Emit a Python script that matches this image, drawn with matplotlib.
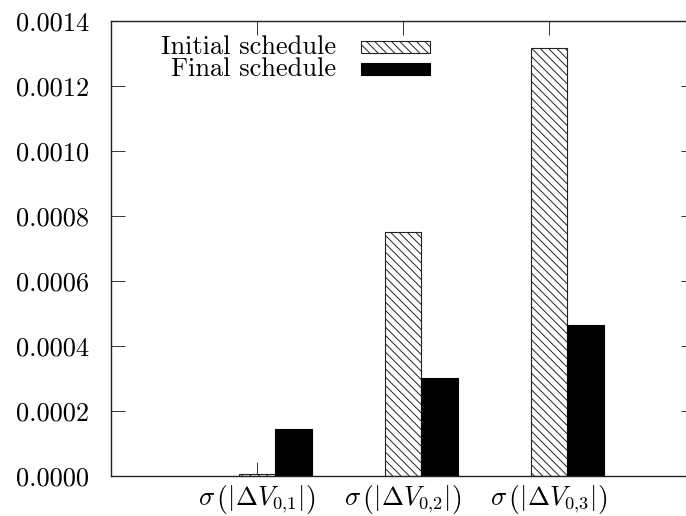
import matplotlib
matplotlib.use("Agg")
import matplotlib.pyplot as plt
from matplotlib.patches import Rectangle
import numpy as np

plt.rcParams['font.family'] = 'serif'
plt.rcParams['font.serif'] = ['cmr10']
plt.rcParams['mathtext.fontset'] = 'cm'
plt.rcParams['axes.unicode_minus'] = False
plt.rcParams['hatch.linewidth'] = 0.7

categories = [r'$\sigma\,\left(|\Delta V_{0{,}1}|\right)$',
              r'$\sigma\,\left(|\Delta V_{0{,}2}|\right)$',
              r'$\sigma\,\left(|\Delta V_{0{,}3}|\right)$']
initial_schedule = [0.000005, 0.00075, 0.001316]
final_schedule = [0.000145, 0.000301, 0.000465]
y_ticks = [0.0, 0.0002, 0.0004, 0.0006, 0.0008, 0.0010, 0.0012, 0.0014]
y_tick_labels = ['0.0000', '0.0002', '0.0004', '0.0006', '0.0008', '0.0010', '0.0012', '0.0014']
series_names = ['Initial schedule', 'Final schedule']

W, H = 686, 516
fig = plt.figure(figsize=(W / 100, H / 100), dpi=100)
ax = fig.add_axes([111 / W, (H - 476) / H, 584 / W, 455 / H])

HATCH = '\\\\\\\\'
x = np.arange(len(categories))
bw = 0.25
ax.bar(x, initial_schedule, width=bw, align='edge', facecolor='white',
       edgecolor='#222222', linewidth=0.8, hatch=HATCH, zorder=2)
ax.bar(x + bw, final_schedule, width=bw, align='edge', facecolor='black',
       edgecolor='black', linewidth=0.8, zorder=2)
# ticks sit at the centre of the first bar in each group
ax.set_xticks(x + bw / 2)
ax.set_xticklabels(categories, fontsize=19)
ax.set_xlim(-1 + bw / 2, 3 + bw / 2)

ax.set_ylim(0, 0.0014)
ax.set_yticks(y_ticks)
ax.set_yticklabels(y_tick_labels, fontsize=19)

ax.set_axisbelow(True)
ax.tick_params(axis='both', direction='in', length=10, width=0.7,
               color='#333333', top=True, right=True)
ax.tick_params(axis='y', pad=16)
ax.tick_params(axis='x', pad=5)
for s in ax.spines.values():
    s.set_linewidth(1.0)
    s.set_color('#222222')

# key in the upper left, text to the left of each swatch
styles = [dict(facecolor='white', edgecolor='#222222', hatch=HATCH),
          dict(facecolor='black', edgecolor='black')]
for name, yc, st in zip(series_names, [47, 69.5], styles):
    ya = (476 - yc) / 455
    xt = (336 - 111) / 584
    ax.text(xt, ya, name, transform=ax.transAxes, fontsize=19,
            ha='right', va='center')
    rx = (361 - 111) / 584
    rw = 69 / 584
    rh = 12 / 455
    ax.add_patch(Rectangle((rx, ya - rh / 2), rw, rh, transform=ax.transAxes,
                           linewidth=0.8, zorder=3, **st))

fig.savefig('out.png', dpi=100)
